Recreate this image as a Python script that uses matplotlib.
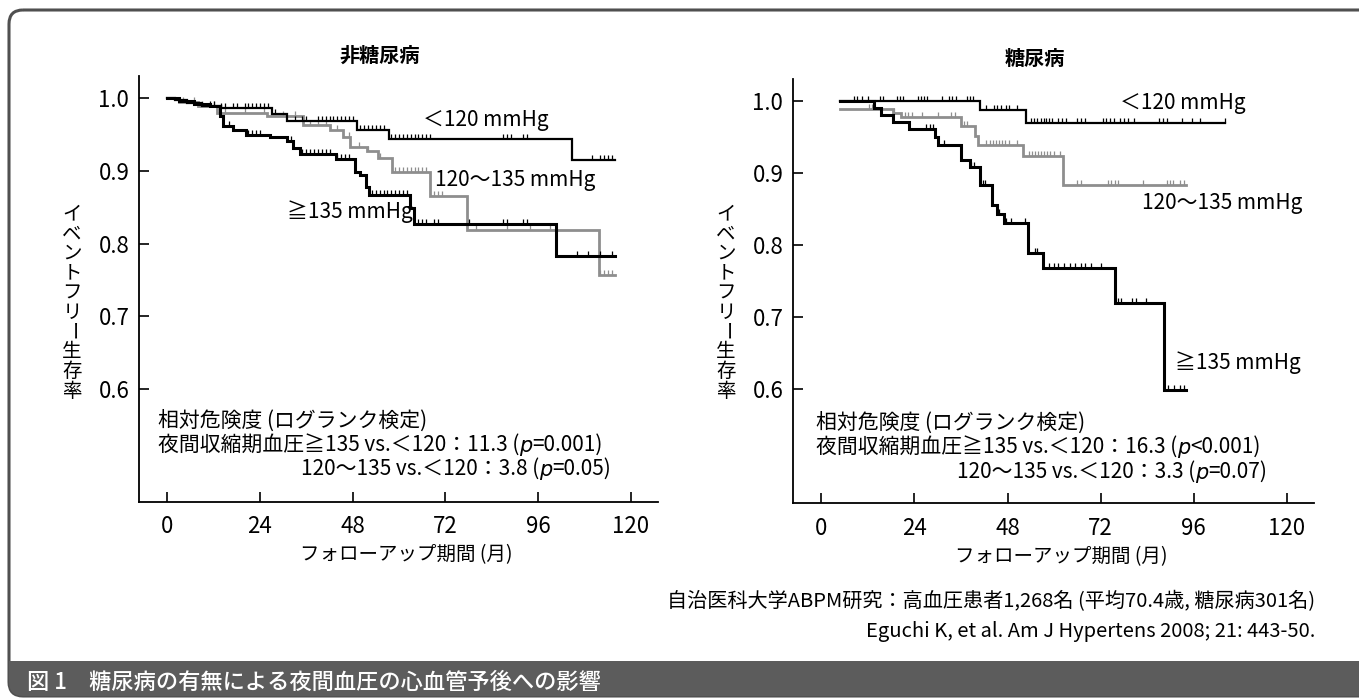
import numpy as np
import matplotlib
matplotlib.use('Agg')
from matplotlib import pyplot as plt
from matplotlib.patches import FancyBboxPatch, Rectangle
from matplotlib.path import Path

plt.rcParams['font.family'] = ['Noto Sans CJK JP', 'DejaVu Sans']

W, H = 1359, 699

month_ticks = [0, 24, 48, 72, 96, 120]
surv_ticks = [0.6, 0.7, 0.8, 0.9, 1.0]

# 非糖尿病 (non-diabetic)
nd_lo_t = [0, 2, 5, 9, 14, 27, 31, 49, 57.5, 104.8, 116]
nd_lo_s = [1.0, 0.997, 0.993, 0.989, 0.986, 0.978, 0.969, 0.956, 0.944, 0.915, 0.915]
nd_lo_c = [11, 12, 14, 15, 17, 18, 20, 21, 22, 23, 24, 25, 26, 28, 33, 35, 36, 39, 40, 41,
           42, 43, 44, 45, 46, 47, 48, 50, 51, 52, 53, 54, 55, 56, 58, 59, 60, 61, 62, 63,
           64, 65, 66, 67, 68, 87, 88, 89, 92, 93, 110, 112, 113, 114, 115]

nd_mid_t = [0, 3, 8, 13, 25.7, 35.2, 42.1, 45.6, 47.3, 51.6, 54.6, 58.1, 68, 77.7, 111.7, 116]
nd_mid_s = [1.0, 0.995, 0.99, 0.98, 0.975, 0.963, 0.956, 0.947, 0.933, 0.927, 0.918, 0.898,
            0.866, 0.819, 0.757, 0.757]
nd_mid_c = [4, 7, 9, 12, 15, 20, 25, 30, 33, 37, 39, 41, 44, 47, 49.5, 52, 55, 59, 60, 61,
            62, 63, 64, 65, 66, 67, 69, 70, 71, 80, 88, 94, 99, 112, 113, 114, 115]

nd_hi_t = [0, 3, 7, 11, 13.6, 14.5, 17, 20.5, 26.6, 30.9, 32.5, 34.4, 43.8, 48.6, 50, 51.4,
           52.3, 62.8, 63.8, 100.6, 116]
nd_hi_s = [1.0, 0.996, 0.992, 0.989, 0.975, 0.962, 0.956, 0.95, 0.947, 0.941, 0.931, 0.924,
           0.917, 0.899, 0.895, 0.878, 0.867, 0.849, 0.827, 0.783, 0.783]
nd_hi_c = [16, 21, 22, 23, 24, 32, 35, 36, 37, 38, 39, 40, 41, 42, 44, 45, 46, 47, 53, 54,
           55, 56, 57, 58, 59, 60, 61, 62, 65, 66, 67, 69, 70, 78, 87, 88, 92, 93, 106, 109,
           112, 115]

# 糖尿病 (diabetic)
dm_lo_t = [4.8, 40.8, 52.8, 104]
dm_lo_s = [1.0, 0.987, 0.969, 0.969]
dm_lo_c = [8.5, 9.2, 10.5, 12, 15, 16, 19.5, 20.3, 21, 25, 25.7, 26.5, 27.3, 31, 33, 33.8,
           34.8, 37.5, 38.3, 39.2, 42.5, 44.5, 45.3, 46.2, 47.5, 48.3, 50.5, 54, 54.8, 55.5,
           56.5, 57.3, 58, 58.8, 59.5, 61, 62, 63, 66, 67, 68, 72.5, 73.5, 74.5, 75.5, 77,
           78, 79, 80.5, 87, 88, 89, 93, 95.5, 97.5, 104]

dm_mid_t = [4.8, 18.4, 20.6, 36, 39.5, 40.5, 52, 62.3, 93.9]
dm_mid_s = [0.989, 0.983, 0.978, 0.965, 0.952, 0.939, 0.924, 0.884, 0.884]
dm_mid_c = [12.4, 13, 18.8, 21.5, 22.3, 23.5, 26, 30, 33.5, 34.5, 36.9, 37.6, 42.5, 43.5,
            44.2, 45, 45.8, 46.6, 47.4, 48.5, 50.5, 53.5, 54.2, 55, 55.8, 56.6, 57.4, 58.2,
            59, 60, 61.5, 66, 67, 74, 74.8, 75.6, 76.4, 83, 89, 89.8, 90.6, 92.5, 93.5]

dm_hi_t = [4.8, 13.7, 15.4, 18.4, 22.7, 29.2, 30, 36, 38.2, 41, 44, 45.2, 47, 53.2, 57.1,
           75.6, 88.3, 93.9]
dm_hi_s = [1.0, 0.99, 0.98, 0.971, 0.961, 0.95, 0.939, 0.918, 0.908, 0.884, 0.856, 0.843,
           0.83, 0.789, 0.768, 0.72, 0.599, 0.599]
dm_hi_c = [27, 28, 28.9, 31.7, 38.6, 39.3, 41.6, 42.3, 45.9, 47.6, 49, 52.4, 55, 55.7, 58.8,
           60, 61, 62.5, 64, 65.5, 67, 68, 69.5, 72, 76.5, 77.3, 80, 81, 83.8, 89.4, 91,
           92.5, 93.5]

GRAY = '#8e8e8e'

fig = plt.figure(figsize=(W / 100, H / 100), dpi=100)
fig.patch.set_facecolor('white')

axL = fig.add_axes([139 / W, 1 - 501.5 / H, (658 - 139) / W, (501.5 - 76) / H])
axR = fig.add_axes([793 / W, 1 - 503 / H, (1314 - 793) / W, (503 - 79) / H])

tick_path = Path([(0, 0), (0, 1)])


def km(ax, t, s, cens, color, lw):
    ax.plot(t, s, drawstyle='steps-post', color=color, lw=lw, solid_joinstyle='miter')
    t = np.asarray(t)
    s = np.asarray(s)
    c = np.asarray(cens)
    cs = s[np.searchsorted(t, c, side='right') - 1]
    ax.plot(c, cs, ls='none', marker=tick_path, ms=7, mew=0.9, color=color)


km(axL, nd_mid_t, nd_mid_s, nd_mid_c, GRAY, 2.0)
km(axL, nd_lo_t, nd_lo_s, nd_lo_c, 'black', 1.6)
km(axL, nd_hi_t, nd_hi_s, nd_hi_c, 'black', 2.2)

km(axR, dm_mid_t, dm_mid_s, dm_mid_c, GRAY, 2.0)
km(axR, dm_lo_t, dm_lo_s, dm_lo_c, 'black', 1.6)
km(axR, dm_hi_t, dm_hi_s, dm_hi_c, 'black', 2.2)

axL.set_ylim(0.4454, 1.0307)
axR.set_ylim(0.4417, 1.0306)
for ax in (axL, axR):
    ax.set_xlim(-7.3, 127)
    ax.set_xticks(month_ticks)
    ax.set_yticks(surv_ticks)
    ax.set_yticklabels(['%.1f' % v for v in surv_ticks])
    ax.spines['top'].set_visible(False)
    ax.spines['right'].set_visible(False)
    ax.spines['left'].set_linewidth(1.3)
    ax.spines['bottom'].set_linewidth(1.3)
    ax.tick_params(direction='in', length=7, width=1.2, labelsize=16)
    ax.tick_params(axis='y', pad=7)
    ax.tick_params(axis='x', pad=10)
    ax.patch.set_alpha(0)

# overlay for texts and frame, pixel coordinates
bg = fig.add_axes([0, 0, 1, 1], zorder=10)
bg.set_xlim(0, W)
bg.set_ylim(H, 0)
bg.axis('off')
bg.patch.set_alpha(0)

frame = FancyBboxPatch((9, 10), 1380, 686, boxstyle='round,pad=0,rounding_size=14',
                       facecolor='none', edgecolor='#505050', lw=2.2)
bg.add_patch(frame)
bar = Rectangle((0, 661), W + 40, 40, facecolor='#5c5c5c', edgecolor='none')
bg.add_patch(bar)
bar.set_clip_path(frame)
bg.text(27, 682, '図 1　糖尿病の有無による夜間血圧の心血管予後への影響', color='white',
        fontsize=16, va='center', ha='left', fontweight='medium')

bg.text(380, 55, '非糖尿病', fontsize=14.5, fontweight='bold', ha='center', va='center')
bg.text(1035, 58, '糖尿病', fontsize=14.5, fontweight='bold', ha='center', va='center')

ylab = 'イベントフリー生存率'
for xx in (72, 726):
    for i, ch in enumerate(ylab):
        bg.text(xx, 214 + i * 19.7, ch, fontsize=14, ha='center', va='center',
                rotation=-90 if ch == 'ー' else 0)

bg.text(406, 555, 'フォローアップ期間 (月)', fontsize=14, ha='center', va='center')
bg.text(1061, 557, 'フォローアップ期間 (月)', fontsize=14, ha='center', va='center')

lab = 15
bg.text(423, 120, '＜120 mmHg', fontsize=lab, va='center')
bg.text(435, 180, '120〜135 mmHg', fontsize=lab, va='center')
bg.text(287, 212, '≧135 mmHg', fontsize=lab, va='center')
bg.text(1120, 103, '＜120 mmHg', fontsize=lab, va='center')
bg.text(1142, 203, '120〜135 mmHg', fontsize=lab, va='center')
bg.text(1175, 363, '≧135 mmHg', fontsize=lab, va='center')


def rich(x, y, parts, size=15):
    prev = bg.text(x, y, parts[0], fontsize=size, va='center', ha='left')
    for k, txt in enumerate(parts[1:]):
        kw = dict(family=['DejaVu Sans'], style='italic') if k % 2 == 0 else {}
        prev = bg.annotate(txt, xy=(1, 0), xycoords=prev, va='bottom', ha='left',
                           fontsize=size, **kw)


bg.text(158, 421, '相対危険度 (ログランク検定)', fontsize=15, va='center')
rich(158, 445, ['夜間収縮期血圧≧135 vs.＜120：11.3 (', 'p', '=0.001)'])
rich(301, 469, ['120〜135 vs.＜120：3.8 (', 'p', '=0.05)'])

bg.text(816, 423, '相対危険度 (ログランク検定)', fontsize=15, va='center')
rich(816, 447, ['夜間収縮期血圧≧135 vs.＜120：16.3 (', 'p', '<0.001)'])
rich(957, 472, ['120〜135 vs.＜120：3.3 (', 'p', '=0.07)'])

bg.text(1315, 602, '自治医科大学ABPM研究：高血圧患者1,268名 (平均70.4歳, 糖尿病301名)',
        fontsize=14.5, ha='right', va='center')
bg.text(1315, 631, 'Eguchi K, et al. Am J Hypertens 2008; 21: 443-50.',
        fontsize=14.5, ha='right', va='center')

fig.savefig('out.png', dpi=100, facecolor='white')
